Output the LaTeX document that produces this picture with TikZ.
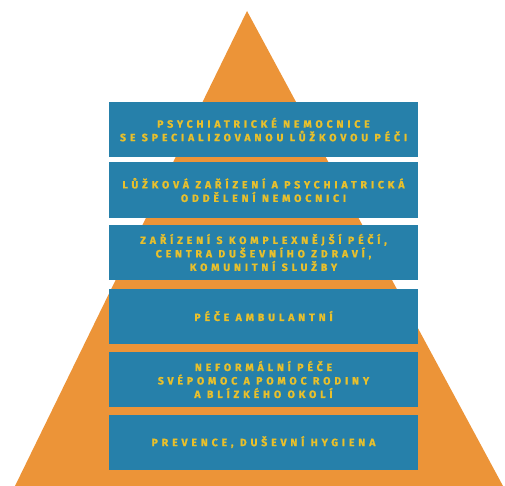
\documentclass[tikz,border=0pt]{standalone}
\usepackage{fontspec}
\usepackage{tikz}
\usetikzlibrary{positioning}
\newfontfamily\levelfont[LetterSpace=37, BoldFeatures={FakeBold=1.3}]{Fira Sans}

\definecolor{pyrorange}{RGB}{236,148,56}
\definecolor{pyrblue}{RGB}{38,128,170}
\definecolor{pyrgold}{RGB}{232,192,44}

\tikzset{
  level/.style={fill=pyrblue, minimum width=309pt, minimum height=55pt,
    inner sep=0pt, align=center, text=pyrgold,
    font=\levelfont\bfseries\fontsize{10.5}{13.5}\selectfont}
}

\begin{document}
\begin{tikzpicture}[x=1pt,y=-1pt]
    \useasboundingbox (0,0) rectangle (505,486);

    % pyramid
    \fill[pyrorange] (247,11) -- (503,486) -- (15,486) -- cycle;

    % levels, top to bottom
    \node[level] (hospital) at (263.5,129.5) {PSYCHIATRICKÉ NEMOCNICE\\SE SPECIALIZOVANOU LŮŽKOVOU PÉČI};
    \node[level] (wards) at (263.5,190) {LŮŽKOVÁ ZAŘÍZENÍ A PSYCHIATRICKÁ\\ODDĚLENÍ NEMOCNICI};
    \node[level] (complex) at (263.5,252.5) {ZAŘÍZENÍ S KOMPLEXNĚJŠÍ PÉČÍ,\\CENTRA DUŠEVNÍHO ZDRAVÍ,\\KOMUNITNÍ SLUŽBY};
    \node[level] (outpatient) at (263.5,316) {PÉČE AMBULANTNÍ};
    \node[level] (informal) at (263.5,379.5) {NEFORMÁLNÍ PÉČE\\SVÉPOMOC A POMOC RODINY\\A BLÍZKÉHO OKOLÍ};
    \node[level] (prevention) at (263.5,442) {PREVENCE, DUŠEVNÍ HYGIENA};
\end{tikzpicture}
\end{document}
